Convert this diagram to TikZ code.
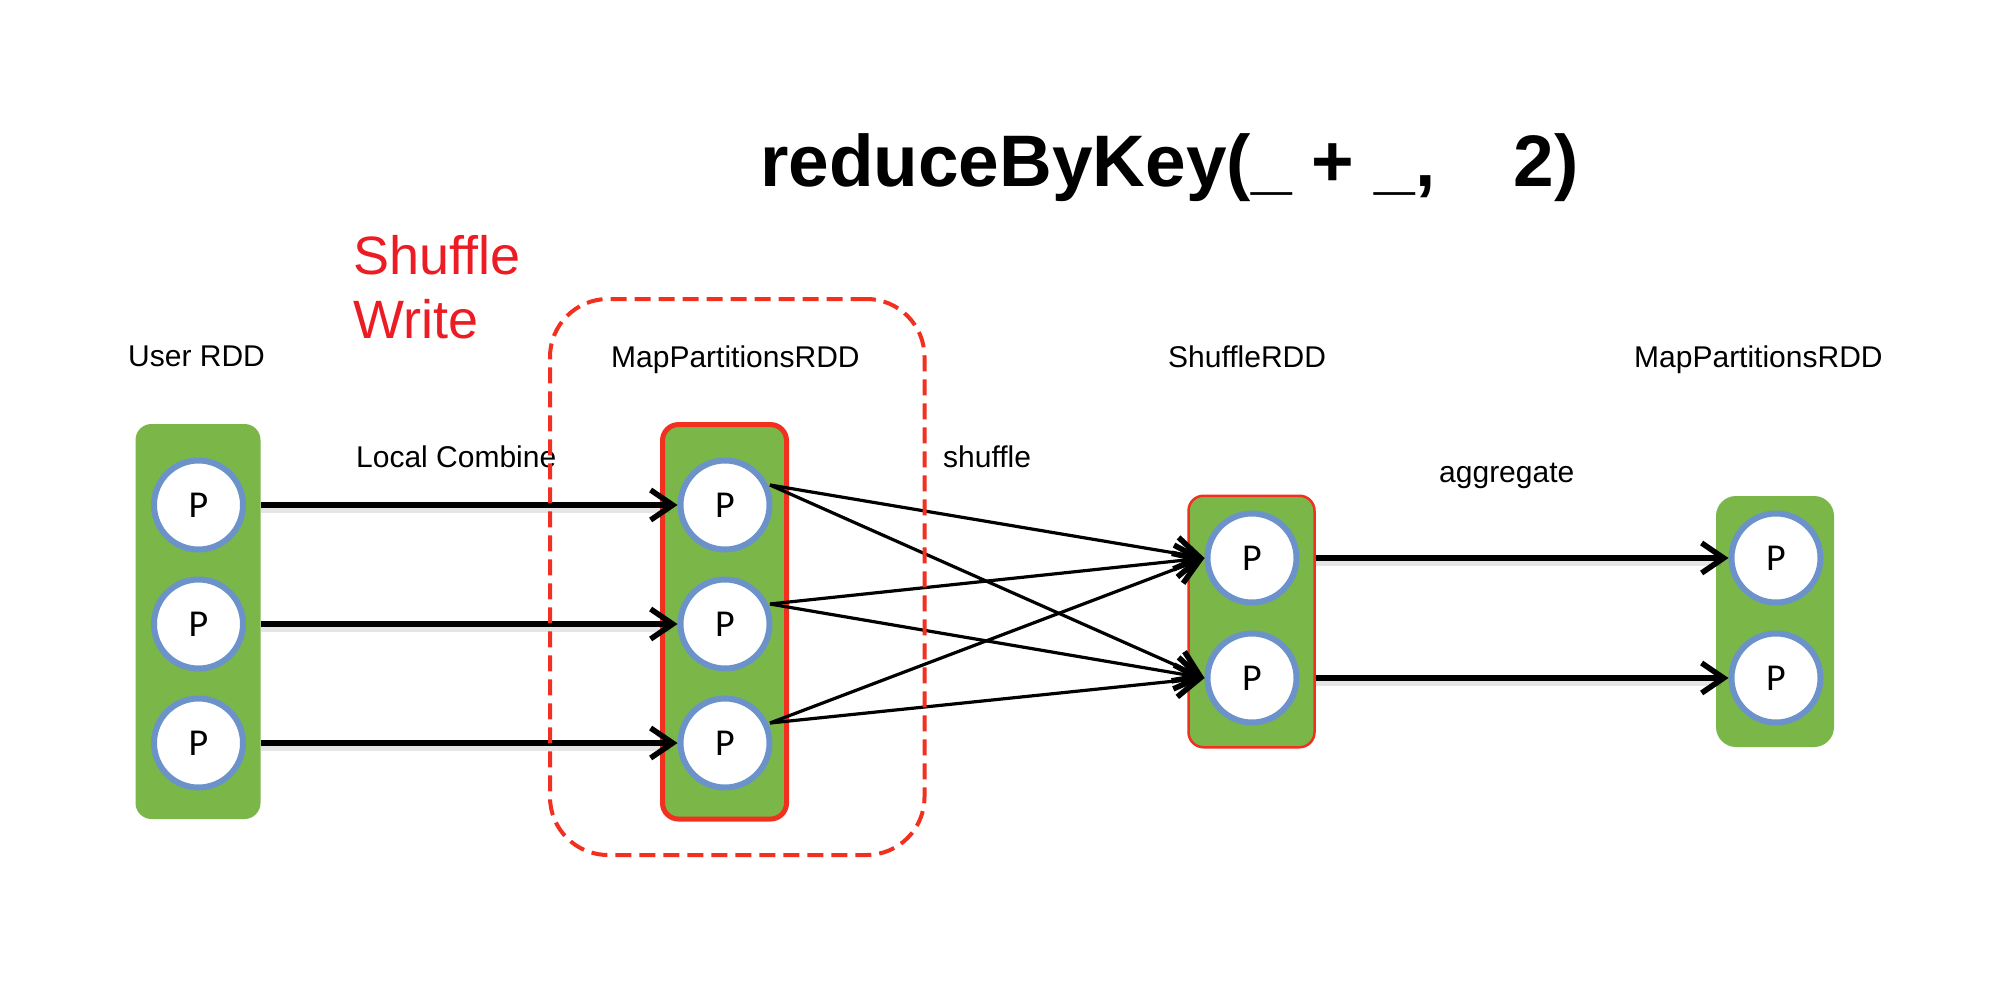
\documentclass[tikz,border=0pt]{standalone}
\usepackage{fontspec}
\setmainfont{Liberation Sans}
\newfontfamily\pfont{Carlito}
\usetikzlibrary{arrows.meta,calc}
\definecolor{boxgreen}{RGB}{122,182,72}
\definecolor{ringblue}{RGB}{108,147,201}
\definecolor{boxred}{RGB}{242,48,32}
\definecolor{txtred}{RGB}{236,28,36}
\begin{document}
\begin{tikzpicture}[x=1pt,y=-1pt,
  part/.style={circle, draw=ringblue, line width=6pt, fill=white, minimum size=89pt, inner sep=0pt, font=\pfont\fontsize{38}{44}\selectfont},
  rddbox/.style={fill=boxgreen, rounded corners=16pt, inner sep=0pt},
  lbl/.style={font=\fontsize{30}{36}\selectfont, anchor=base west, inner sep=0pt},
  redlbl/.style={font=\fontsize{54}{64}\selectfont, anchor=base west, inner sep=0pt, text=txtred},
  bigarrow/.style={line width=5.5pt, -{Straight Barb[length=22pt,width=30pt]}},
  thinarrow/.style={line width=3.2pt, -{Straight Barb[length=24pt,width=32pt,line width=5.5pt]}},
  arrowshadow/.style={line width=6pt, draw=black, opacity=0.1},
  ]
\fill[white] (0,0) rectangle (2000,990);
\useasboundingbox (0,0) rectangle (2000,990);

% title
\node[anchor=base west, inner sep=0pt, font=\bfseries\fontsize{73}{80}\selectfont] (title) at (760,186) {reduceByKey(\_ + \_,\hspace{78pt}2)};

% labels
\node[redlbl] (tshuf1) at (353,274) {Shuffle};
\node[redlbl] (tshuf2) at (353,338.5) {Write};
\node[lbl] (tuser) at (128,366) {User RDD};
\node[lbl] (tmap1) at (611,367) {MapPartitionsRDD};
\node[lbl] (tshufrdd) at (1168,367) {ShuffleRDD};
\node[lbl] (tmap2) at (1634,367) {MapPartitionsRDD};
\node[lbl] (tlocal) at (356,467) {Local Combine};
\node[lbl] (tshuffle) at (943,467) {shuffle};
\node[lbl] (tagg) at (1439,482) {aggregate};

% boxes
\node[rddbox, minimum width=125pt, minimum height=395pt] (lbox) at (198,621.5) {};
\node[rddbox, draw=boxred, line width=5pt, minimum width=124pt, minimum height=394.5pt] (mbox) at (724.5,621.8) {};
\node[rddbox, draw=boxred, line width=2.5pt, rounded corners=15pt, minimum width=126pt, minimum height=251.5pt] (sbox) at (1251.5,621.5) {};
\node[rddbox, rounded corners=20pt, minimum width=118pt, minimum height=251pt] (rbox) at (1775,621.5) {};

% partitions
\node[part] (l1) at (198.5,505) {P};
\node[part] (l2) at (198.5,624) {P};
\node[part] (l3) at (198.5,743) {P};
\node[part] (m1) at (725,505) {P};
\node[part] (m2) at (725,624) {P};
\node[part] (m3) at (725,743) {P};
\node[part] (s1) at (1252,558) {P};
\node[part] (s2) at (1252,678) {P};
\node[part] (r1) at (1776,558) {P};
\node[part] (r2) at (1776,678) {P};

% local combine arrows
\foreach \a/\b in {l1/m1,l2/m2,l3/m3}{
  \draw[arrowshadow] ([yshift=-5pt]lbox.east |- \a) -- ([yshift=-5pt,xshift=-8pt]\b.west);
  \draw[bigarrow] (lbox.east |- \a) -- (\b.west);
}
% aggregate arrows
\foreach \a/\b in {s1/r1,s2/r2}{
  \draw[arrowshadow] ([yshift=-5pt]sbox.east |- \a) -- ([yshift=-5pt,xshift=-8pt]\b.west);
  \draw[bigarrow] (sbox.east |- \a) -- (\b.west);
}
% shuffle lines
\foreach \a in {m1,m2,m3}{
  \foreach \b in {s1,s2}{
    \draw[thinarrow] ([shift={(45,-20)}]\a.center) -- (\b.west);
  }
}

% shuffle write region
\node[draw=boxred, line width=4pt, dash pattern=on 16pt off 8pt, rounded corners=58pt, minimum width=374.5pt, minimum height=556pt, inner sep=0pt] (swrite) at (737.25,577) {};
\end{tikzpicture}
\end{document}
